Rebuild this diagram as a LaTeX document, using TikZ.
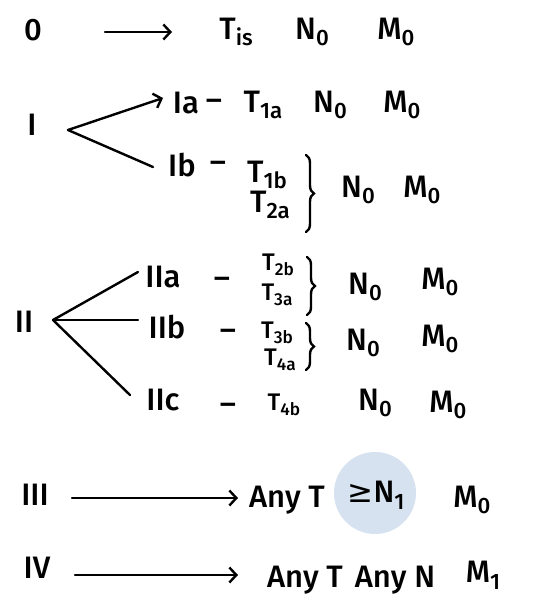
\documentclass[tikz,border=0pt]{standalone}
\usepackage{fontspec}
\setmainfont{Fira Sans}[UprightFont={* Medium}]
\newfontfamily\symfont{DejaVu Sans}
\usetikzlibrary{arrows.meta,decorations.pathreplacing}
\newcommand\lo[1]{\raisebox{-0.22em}{\scalebox{0.72}{#1}}}
\begin{document}
\begin{tikzpicture}[x=1pt,y=-1pt,
  lbl/.style={font=\fontsize{31}{33}\selectfont, inner sep=0pt, anchor=center},
  sml/.style={font=\fontsize{24}{26}\selectfont, inner sep=0pt, anchor=center},
  ln/.style={line width=2.4pt, line cap=round},
  arr/.style={ln, -{Straight Barb[length=7pt,width=15pt,line width=2.4pt]}},
  brc/.style={ln, decorate, decoration={brace, amplitude=8pt}}]
\useasboundingbox (0,0) rectangle (559,599);
% highlight
\node[circle, fill={rgb,255:red,214;green,226;blue,240}, minimum size=82pt, inner sep=0pt] (hl) at (375,493) {};
% stage 0
\node[lbl] (s0) at (33,30) {0};
\node[lbl] (t0) at (236,32) {T\lo{is}};
\node[lbl] (n0) at (312,32) {N\lo{0}};
\node[lbl] (m0) at (396,32) {M\lo{0}};
\coordinate (a0s) at (105,32);
\coordinate (a0e) at (172,32);
\draw[arr] (a0s) -- (a0e);
% stage I
\node[lbl] (sI) at (32,125) {I};
\coordinate (vI) at (68,130);
\node[lbl] (sIa) at (186,103) {Ia};
\node[lbl] (dIa) at (214,105) {–};
\node[lbl] (tIa) at (263,105) {T\lo{1a}};
\node[lbl] (nIa) at (330,105) {N\lo{0}};
\node[lbl] (mIa) at (402,105) {M\lo{0}};
\coordinate (eIa) at (163,98);
\draw[arr] (vI) -- (eIa);
\node[lbl] (sIb) at (182,165) {Ib};
\node[lbl] (dIb) at (218,167) {–};
\node[lbl] (tIb) at (267,175) {T\lo{1b}};
\node[lbl] (tIIa0) at (270,205) {T\lo{2a}};
\coordinate (bIt) at (306,155);
\coordinate (bIb) at (306,232);
\draw[brc] (bIt) -- (bIb);
\node[lbl] (nIb) at (358,190) {N\lo{0}};
\node[lbl] (mIb) at (422,190) {M\lo{0}};
\coordinate (eIb) at (153,167);
\draw[ln] (vI) -- (eIb);
% stage II
\node[lbl] (sII) at (24,322) {II};
\coordinate (vII) at (53,320);
\coordinate (eIIa) at (138,272);
\coordinate (eIIb) at (138,320);
\coordinate (eIIc) at (130,395);
\draw[ln] (vII) -- (eIIa);
\draw[ln] (vII) -- (eIIb);
\draw[ln] (vII) -- (eIIc);
\node[lbl] (sIIa) at (163,277) {IIa};
\node[lbl] (dIIa) at (222,283) {–};
\node[sml] (tIIa1) at (278,265) {T\lo{2b}};
\node[sml] (tIIa2) at (277,295) {T\lo{3a}};
\coordinate (bIIat) at (307,257);
\coordinate (bIIab) at (307,315);
\draw[brc] (bIIat) -- (bIIab);
\node[lbl] (nIIa) at (365,287) {N\lo{0}};
\node[lbl] (mIIa) at (440,282) {M\lo{0}};
\node[lbl] (sIIb) at (167,327) {IIb};
\node[lbl] (dIIb) at (228,335) {–};
\node[sml] (tIIb1) at (277,333) {T\lo{3b}};
\node[sml] (tIIb2) at (280,360) {T\lo{4a}};
\coordinate (bIIbt) at (306,323);
\coordinate (bIIbb) at (306,370);
\draw[brc] (bIIbt) -- (bIIbb);
\node[lbl] (nIIb) at (363,343) {N\lo{0}};
\node[lbl] (mIIb) at (440,339) {M\lo{0}};
\node[lbl] (sIIc) at (163,400) {IIc};
\node[lbl] (dIIc) at (228,409) {–};
\node[sml] (tIIc) at (284,405) {T\lo{4b}};
\node[lbl] (nIIc) at (375,403) {N\lo{0}};
\node[lbl] (mIIc) at (448,405) {M\lo{0}};
% stage III
\node[lbl] (sIII) at (35,495) {III};
\coordinate (aIIIs) at (72,498);
\coordinate (aIIIe) at (238,498);
\draw[arr] (aIIIs) -- (aIIIe);
\node[lbl] (tIII) at (287,500) {Any T};
\node[lbl] (nIII) at (376,495) {{\symfont ≥}N\lo{1}};
\node[lbl] (mIII) at (472,500) {M\lo{0}};
% stage IV
\node[lbl] (sIV) at (37,568) {IV};
\coordinate (aIVs) at (75,575);
\coordinate (aIVe) at (238,575);
\draw[arr] (aIVs) -- (aIVe);
\node[lbl] (tIV) at (305,580) {Any T};
\node[lbl] (nIV) at (395,580) {Any N};
\node[lbl] (mIV) at (483,575) {M\lo{1}};
\end{tikzpicture}
\end{document}
